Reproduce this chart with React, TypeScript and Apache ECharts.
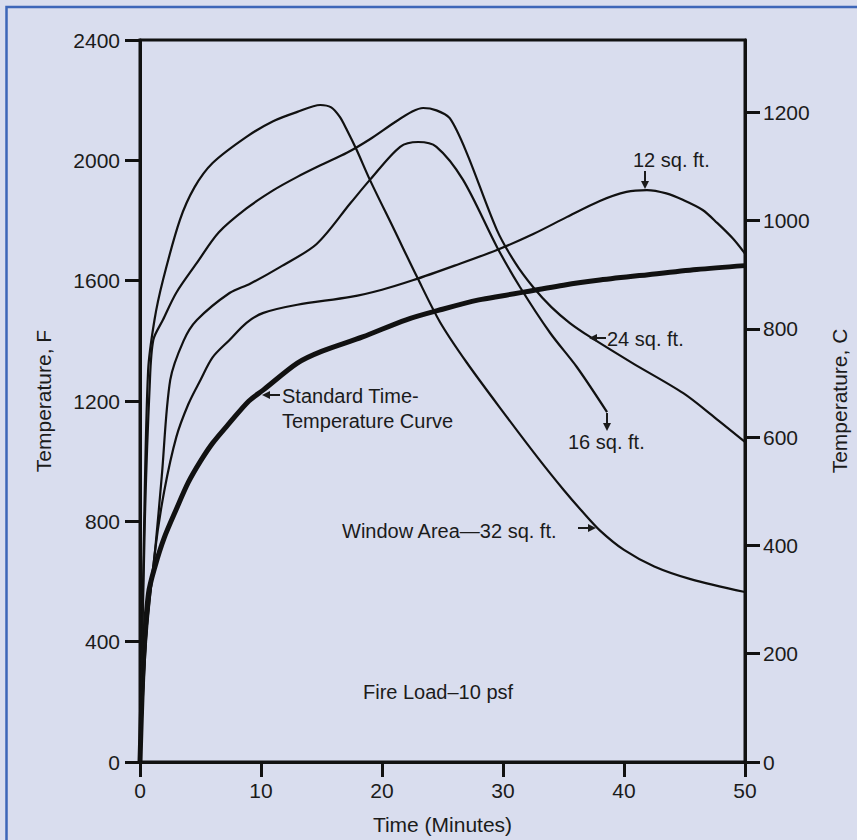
import React, { useEffect, useRef } from "react";
import * as echarts from "echarts";

// Time (minutes) vs temperature (°F)
const standardCurve: [number, number][] = [
  [0, 0], [0.3, 350], [0.7, 560], [1.24, 650], [2, 745], [3, 840], [4, 930], [5, 1000],
  [6, 1060], [7.4, 1127], [9, 1200], [10.2, 1237], [13, 1326], [15, 1365], [18.4, 1413],
  [22, 1470], [25, 1505], [28, 1536], [30, 1550], [35, 1585], [38, 1602], [42, 1620],
  [46, 1637], [50, 1650],
];
const area32: [number, number][] = [
  [0, 0], [0.3, 700], [0.67, 1300], [1.2, 1470], [1.9, 1602], [3.3, 1802], [4.5, 1910],
  [6, 1991], [8.8, 2078], [11, 2130], [13, 2161], [14.9, 2184], [15.8, 2176], [16.5, 2145],
  [17.1, 2101], [17.9, 2035], [19, 1935], [21, 1770], [22.9, 1612], [24.8, 1462], [27, 1328],
  [30, 1164], [33, 1005], [35, 905], [36.5, 835], [38, 770], [40, 705], [42.5, 650],
  [45.5, 608], [50, 565],
];
const area24: [number, number][] = [
  [0, 0], [0.4, 800], [0.8, 1250], [1.1, 1403], [1.9, 1470], [3, 1560], [4.7, 1659],
  [6.5, 1760], [8.8, 1840], [11, 1900], [13, 1945], [15, 1985], [17.1, 2025], [19, 2070],
  [21, 2125], [22.5, 2162], [23.4, 2174], [24.5, 2166], [25.6, 2140], [27, 2025],
  [29.5, 1768], [31, 1660], [32.5, 1578], [34, 1512], [35.5, 1460], [37.2, 1413],
  [40.7, 1326], [44.9, 1226], [47.5, 1145], [50, 1064],
];
const area16: [number, number][] = [
  [0, 0], [0.5, 420], [1.24, 700], [1.8, 950], [2.5, 1270], [3.6, 1400], [4.7, 1469],
  [7.4, 1559], [9.1, 1590], [11.6, 1646], [14.6, 1722], [17.4, 1858], [19, 1935],
  [21.5, 2045], [23, 2061], [24.5, 2045], [26.7, 1935], [29.5, 1712], [31.4, 1579],
  [33.9, 1426], [36.1, 1313], [38.6, 1163],
];
const area12: [number, number][] = [
  [0, 0], [0.5, 400], [1.24, 700], [2, 900], [3, 1080], [4, 1190], [5, 1270], [6, 1345],
  [7.4, 1403], [8.8, 1460], [10.2, 1493], [13, 1520], [17.4, 1546], [20, 1570],
  [22.6, 1602], [26, 1650], [29.5, 1702], [32.5, 1755], [35.3, 1812], [38, 1865],
  [40.2, 1895], [41.9, 1901], [43.5, 1890], [44.9, 1868], [46.5, 1835], [47.7, 1792],
  [49, 1740], [50, 1690],
];

const timeRange = [0, 50];
const timeStep = 10;
const fahrenheitRange = [0, 2400];
const fahrenheitStep = 400;
const celsiusRange = [0, 2400 / 1.8];
const celsiusStep = 200;

const FONT = '"Liberation Sans", Arial, Helvetica, sans-serif';
const INK = "#1b1b1b";

function textEl(text: string, x: number, y: number, size = 20) {
  return {
    type: "text",
    x,
    y,
    style: { text, fill: INK, fontSize: size, fontFamily: FONT, align: "left", verticalAlign: "middle" },
    z: 10,
  };
}
function arrowEl(x1: number, y1: number, x2: number, y2: number) {
  // arrow from (x1,y1) pointing to (x2,y2)
  const dx = x2 - x1, dy = y2 - y1;
  const len = Math.sqrt(dx * dx + dy * dy);
  const ux = dx / len, uy = dy / len;
  const hx = x2 - ux * 8, hy = y2 - uy * 8;
  return [
    { type: "line", shape: { x1, y1, x2: hx, y2: hy }, style: { stroke: INK, lineWidth: 2 }, z: 10 },
    {
      type: "polygon",
      shape: { points: [[x2, y2], [hx - uy * 4, hy + ux * 4], [hx + uy * 4, hy - ux * 4]] },
      style: { fill: INK },
      z: 10,
    },
  ];
}

export default function App() {
  const ref = useRef<HTMLDivElement>(null);
  useEffect(() => {
    if (!ref.current) return;
    const chart = echarts.init(ref.current, undefined, { renderer: "svg" });
    const mk = (name: string, data: [number, number][], width: number) => ({
      name,
      type: "line",
      data,
      showSymbol: false,
      smooth: 0.3,
      lineStyle: { color: "#111", width },
      silent: true,
    });
    const plain = (v: number) => String(Math.round(v));
    chart.setOption({
      animation: false,
      backgroundColor: "#d9ddee",
      grid: {
        left: 140, top: 40, width: 605, height: 722, show: true,
        borderColor: "#111", borderWidth: 3, backgroundColor: "transparent",
        outerBoundsMode: "none",
      },
      xAxis: {
        type: "value", min: timeRange[0], max: timeRange[1], interval: timeStep,
        name: "Time (Minutes)", nameLocation: "middle", nameGap: 52,
        nameTextStyle: { fontSize: 21, fontFamily: FONT, color: INK },
        axisLine: { onZero: false, lineStyle: { color: "#111", width: 3 } },
        axisTick: { length: 15, lineStyle: { color: "#111", width: 3 } },
        axisLabel: { fontSize: 21, fontFamily: FONT, color: INK, margin: 18, formatter: plain },
        splitLine: { show: false },
      },
      yAxis: [
        {
          type: "value", min: fahrenheitRange[0], max: fahrenheitRange[1], interval: fahrenheitStep,
          name: "Temperature, F", nameLocation: "middle", nameGap: 86,
          nameTextStyle: { fontSize: 21, fontFamily: FONT, color: INK },
          axisLine: { show: true, onZero: false, lineStyle: { color: "#111", width: 3 } },
          axisTick: { show: true, length: 15, lineStyle: { color: "#111", width: 3 } },
          axisLabel: { fontSize: 21, fontFamily: FONT, color: INK, margin: 20, formatter: plain },
          splitLine: { show: false },
        },
        {
          type: "value", position: "right", min: celsiusRange[0], max: celsiusRange[1], interval: celsiusStep,
          name: "Temperature, C", nameLocation: "middle", nameGap: 84,
          nameTextStyle: { fontSize: 21, fontFamily: FONT, color: INK },
          axisLine: { show: true, onZero: false, lineStyle: { color: "#111", width: 3 } },
          axisTick: { show: true, length: 15, lineStyle: { color: "#111", width: 3 } },
          axisLabel: {
            fontSize: 21, fontFamily: FONT, color: INK, margin: 18, showMaxLabel: false,
            formatter: (v: number) => (Math.abs(v % celsiusStep) < 1e-6 ? String(v) : ""),
          },
          splitLine: { show: false },
        },
      ],
      series: [
        mk("Standard Time-Temperature Curve", standardCurve, 5),
        mk("32 sq. ft.", area32, 2.2),
        mk("24 sq. ft.", area24, 2.2),
        mk("16 sq. ft.", area16, 2.2),
        mk("12 sq. ft.", area12, 2.2),
      ],
      graphic: [
        {
          type: "rect", shape: { x: 6.5, y: 7, width: 900, height: 900 },
          style: { fill: "none", stroke: "#3d66b8", lineWidth: 2.5 }, z: 20, silent: true,
        },
        textEl("12 sq. ft.", 633, 160),
        ...arrowEl(645, 171, 645, 189),
        textEl("24 sq. ft.", 607, 339),
        ...arrowEl(606, 338, 589, 338),
        textEl("16 sq. ft.", 568, 442),
        ...arrowEl(607, 413, 607, 431),
        textEl("Standard Time-", 282, 396),
        textEl("Temperature Curve", 282, 421),
        ...arrowEl(280, 395, 262, 395),
        textEl("Window Area\u201432 sq. ft.", 342, 531),
        ...arrowEl(578, 528, 596, 528),
        textEl("Fire Load\u201310 psf", 363, 692),
      ],
    });
    return () => chart.dispose();
  }, []);
  return (
    <div
      ref={ref}
      style={{ position: "fixed", left: 0, top: 0, width: 857, height: 840 }}
    />
  );
}
